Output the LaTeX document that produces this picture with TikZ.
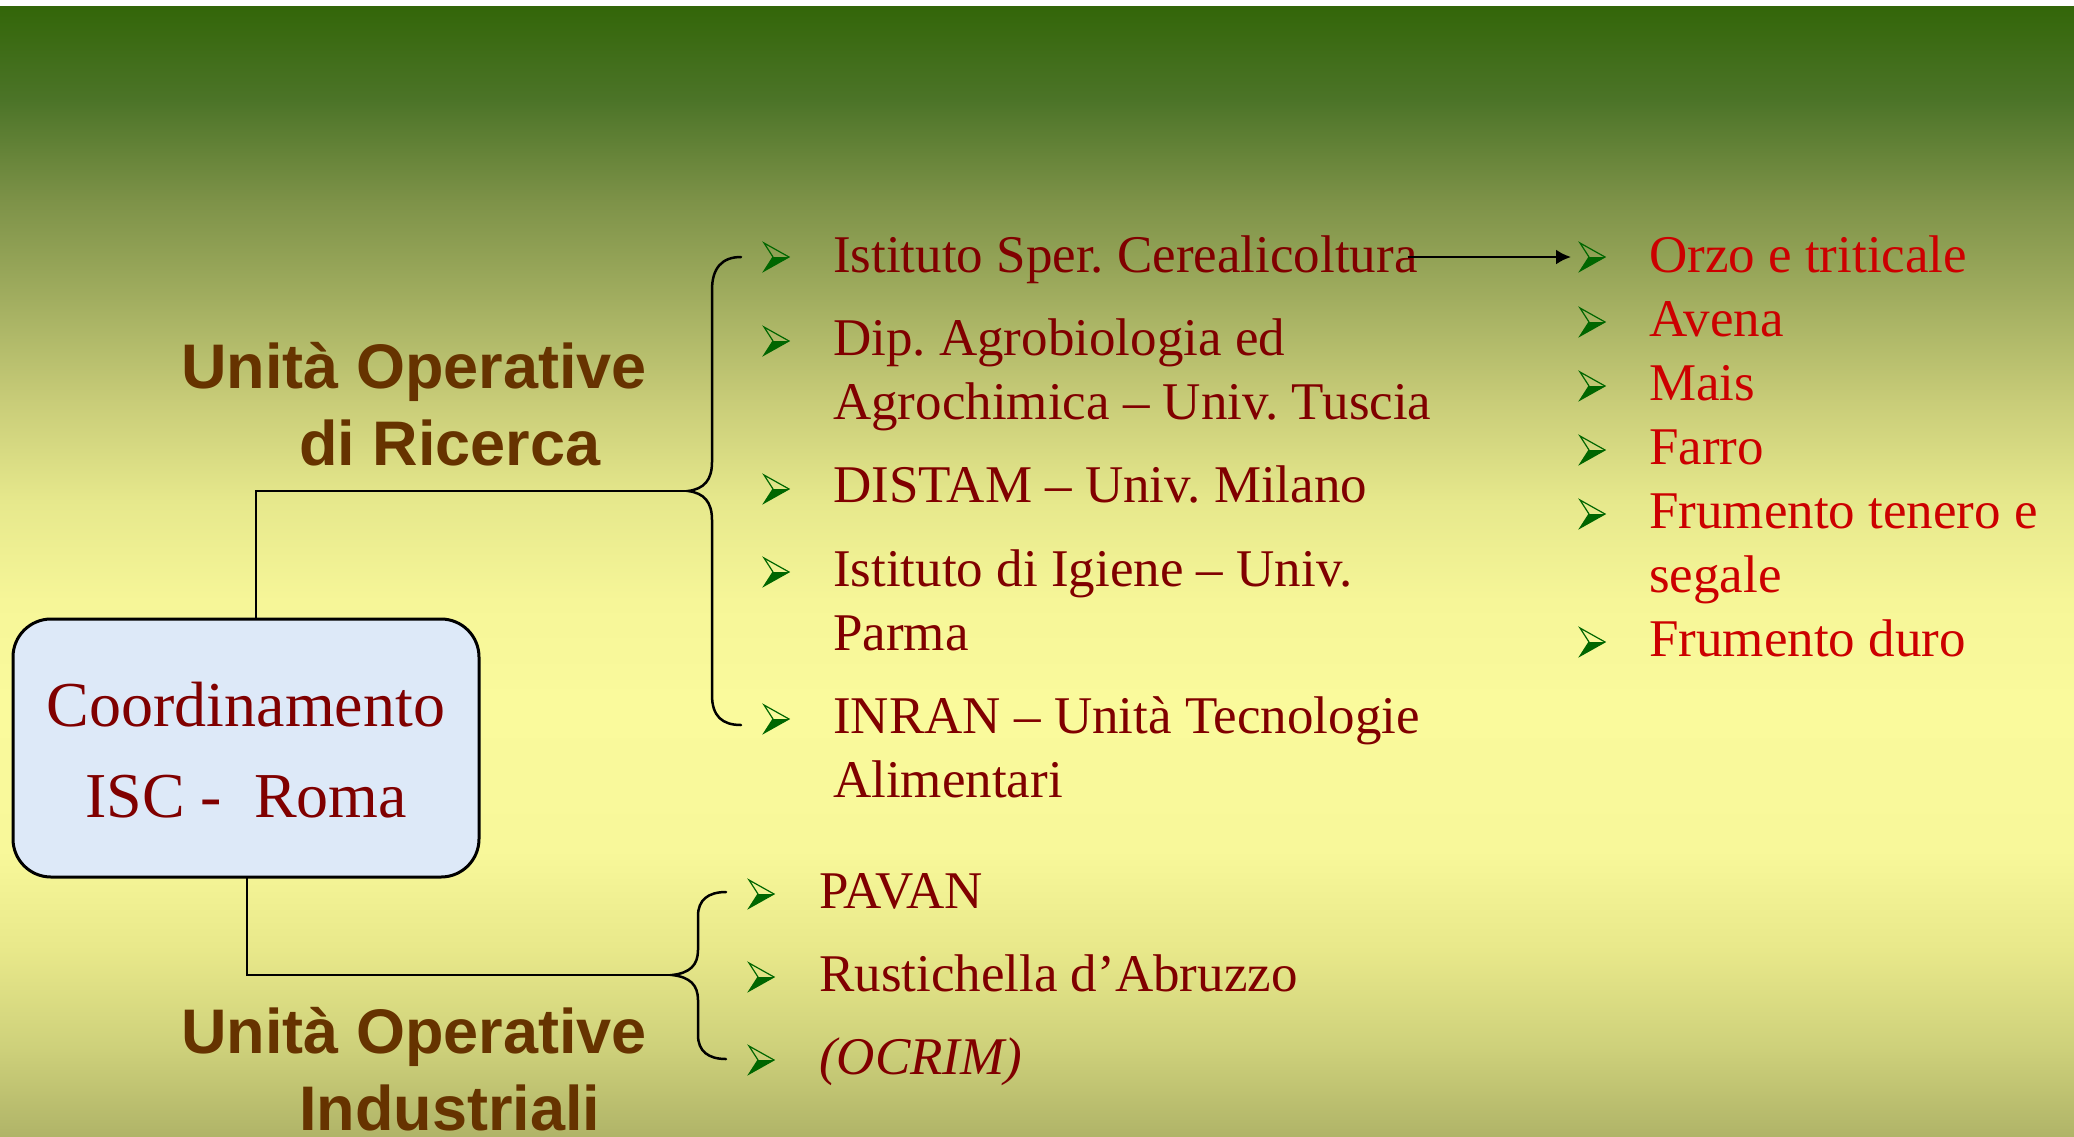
\documentclass[tikz,border=0pt]{standalone}
\usepackage{fontspec}
\setmainfont{Liberation Serif}
\newfontfamily\lsans{Liberation Sans}
\usetikzlibrary{arrows.meta}
\frenchspacing
\definecolor{s0}{HTML}{336609}
\definecolor{s1}{HTML}{4C7428}
\definecolor{s2}{HTML}{7D9248}
\definecolor{s3}{HTML}{A2AE60}
\definecolor{s4}{HTML}{C8CC78}
\definecolor{s5}{HTML}{E6E88C}
\definecolor{s6}{HTML}{F6F698}
\definecolor{s7}{HTML}{FAFA9C}
\definecolor{s8}{HTML}{F8F89A}
\definecolor{s9}{HTML}{E8E88A}
\definecolor{s10}{HTML}{CDD07A}
\definecolor{s11}{HTML}{B0B468}
\definecolor{darkred}{HTML}{800000}
\definecolor{brightred}{HTML}{CC0000}
\definecolor{brownlbl}{HTML}{663300}
\definecolor{boxblue}{HTML}{DDE9F8}
\definecolor{bulgreen}{HTML}{006600}
\begin{document}
\begin{tikzpicture}[x=1pt,y=-1pt,
  conn/.style={line width=2.5pt,black},
  listtxt/.style={anchor=base west,inner sep=0pt,text=darkred,font=\fontsize{53}{64}\selectfont},
  croptxt/.style={anchor=base west,inner sep=0pt,text=brightred,font=\fontsize{53}{64}\selectfont},
  lbltxt/.style={anchor=base west,inner sep=0pt,text=brownlbl,font=\lsans\bfseries\fontsize{63}{76}\selectfont},
  boxtxt/.style={anchor=base,inner sep=0pt,text=darkred,font=\fontsize{64}{77}\selectfont},
  bul/.pic={
    \fill[bulgreen] (-3,0) -- (13,0) -- (-12,14) -- cycle;
    \draw[bulgreen,line width=1.2pt,line join=miter] (-3,0) -- (-12,-14) -- (13,0) -- (-12,14) -- cycle;
  }]
\useasboundingbox (0,0) rectangle (2074,1136);
% background
\fill[white] (0,0) rectangle (2074,6);
\shade[top color=s0,bottom color=s1] (0,6) rectangle (2074,101);
\shade[top color=s1,bottom color=s2] (0,100) rectangle (2074,201);
\shade[top color=s2,bottom color=s3] (0,200) rectangle (2074,301);
\shade[top color=s3,bottom color=s4] (0,300) rectangle (2074,401);
\shade[top color=s4,bottom color=s5] (0,400) rectangle (2074,501);
\shade[top color=s5,bottom color=s6] (0,500) rectangle (2074,601);
\shade[top color=s6,bottom color=s7] (0,600) rectangle (2074,701);
\shade[top color=s7,bottom color=s8] (0,700) rectangle (2074,851);
\shade[top color=s8,bottom color=s9] (0,850) rectangle (2074,951);
\shade[top color=s9,bottom color=s10] (0,950) rectangle (2074,1051);
\shade[top color=s10,bottom color=s11] (0,1050) rectangle (2074,1136);

% coordination box
\node[draw,line width=3pt,fill=boxblue,rounded corners=38pt,minimum width=466pt,minimum height=258pt,inner sep=0pt] (box) at (246,748) {};
\node[boxtxt] (coord) at (246,726) {Coordinamento};
\node[boxtxt] (isc) at (246,817) {ISC -\ \ Roma};

% group labels
\node[lbltxt] (lblR1) at (181,388) {Unità Operative};
\node[lbltxt] (lblR2) at (299,465) {di Ricerca};
\node[lbltxt] (lblI1) at (181,1053) {Unità Operative};
\node[lbltxt] (lblI2) at (299,1130) {Industriali};

% connectors and braces
\coordinate (footA) at (256,619);
\coordinate (tipA) at (688,491);
\coordinate (footB) at (247,877);
\coordinate (tipB) at (672,975);
\draw[conn] (footA) |- (tipA);
\draw[conn] (footB) |- (tipB);
\draw[conn,line cap=round] (741,257) .. controls (722,257) and (712,268) .. (712,290) -- (712,462)
  .. controls (712,480) and (704,489) .. (tipA)
  .. controls (704,493) and (712,502) .. (712,520) -- (712,695)
  .. controls (712,716) and (722,725) .. (741,725);
\draw[conn,line cap=round] (726,892) .. controls (708,892) and (698,900) .. (698,916) -- (698,950)
  .. controls (698,965) and (690,973) .. (tipB)
  .. controls (690,977) and (698,985) .. (698,1000) -- (698,1035)
  .. controls (698,1051) and (708,1059) .. (726,1059);

% research list
\pic at (776,257) {bul};
\node[listtxt] (r1) at (833,272) {Istituto Sper. Cerealicoltura};
\pic at (776,341) {bul};
\node[listtxt] (r2a) at (833,355) {Dip. Agrobiologia ed};
\node[listtxt] (r2b) at (833,419) {Agrochimica – Univ. Tuscia};
\pic at (776,489) {bul};
\node[listtxt] (r3) at (833,502) {DISTAM – Univ. Milano};
\pic at (776,572) {bul};
\node[listtxt] (r4a) at (833,586) {Istituto di Igiene – Univ.};
\node[listtxt] (r4b) at (833,650) {Parma};
\pic at (776,719) {bul};
\node[listtxt] (r5a) at (833,733) {INRAN – Unità Tecnologie};
\node[listtxt] (r5b) at (833,797) {Alimentari};

% industrial list
\pic at (761,894) {bul};
\node[listtxt] (i1) at (819,908) {PAVAN};
\pic at (761,977) {bul};
\node[listtxt] (i2) at (819,991) {Rustichella d’Abruzzo};
\pic at (761,1060) {bul};
\node[listtxt,font=\itshape\fontsize{53}{64}\selectfont] (i3) at (819,1074) {(OCRIM)};

% crop list
\pic at (1592,257) {bul};
\node[croptxt] (c1) at (1649,272) {Orzo e triticale};
\pic at (1592,322) {bul};
\node[croptxt] (c2) at (1649,336) {Avena};
\pic at (1592,386) {bul};
\node[croptxt] (c3) at (1649,400) {Mais};
\pic at (1592,450) {bul};
\node[croptxt] (c4) at (1649,464) {Farro};
\pic at (1592,514) {bul};
\node[croptxt] (c5a) at (1649,528) {Frumento tenero e};
\node[croptxt] (c5b) at (1649,592) {segale};
\pic at (1592,642) {bul};
\node[croptxt] (c6) at (1649,656) {Frumento duro};

% arrow
\coordinate (arrS) at ([xshift=-10pt,yshift=15pt]r1.base east);
\coordinate (arrE) at (1571,257);
\draw[conn,-{Latex[length=15pt,width=15pt]}] (arrS) -- (arrE);
\end{tikzpicture}
\end{document}
